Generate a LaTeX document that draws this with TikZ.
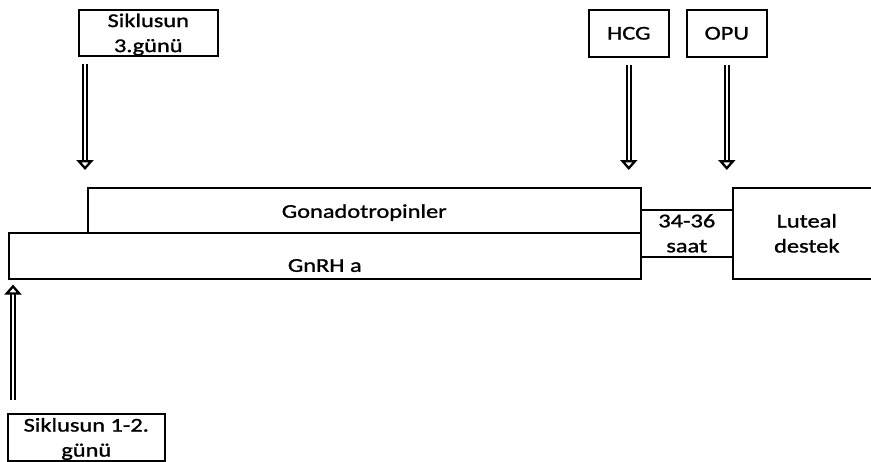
\documentclass[tikz,border=0pt]{standalone}
\usepackage{fontspec}
\setmainfont{Carlito}[FakeStretch=1.25,FakeBold=1.2]
\usetikzlibrary{arrows.meta,positioning}
\tikzset{>=stealth}
\tikzset{
  box/.style={draw,line width=1.6pt,inner sep=0pt,align=center,
    font=\fontsize{19.5}{25}\selectfont},
  dblarrow/.style={double,double distance=2.6pt,line width=1.4pt,
    -{Triangle[open,length=10pt,width=17pt,line width=2.3pt]}}
}

\begin{document}
\begin{tikzpicture}[x=1pt,y=-1pt]
\useasboundingbox (0,0) rectangle (871,461);

% time bars
\node[box,anchor=north west,minimum width=553pt,minimum height=45pt,
  text height=15pt,text depth=0pt] (gonad) at (87,187) {Gonadotropinler};
\node[box,anchor=north west,minimum width=632pt,minimum height=46pt,
  text height=32pt,text depth=0pt] (gnrh) at (8,232) {GnRH a};
\node[box,anchor=north west,minimum width=92pt,minimum height=47pt] (saat) at (640,209) {34-36\\saat};
\node[box,anchor=north west,minimum width=148pt,minimum height=91pt] (luteal) at (732,187) {Luteal\\destek};

% events
\node[box,anchor=north west,minimum width=139pt,minimum height=46pt,
  text depth=0pt] (day3) at (78,9) {Siklusun\\3.günü};
\node[box,anchor=north west,minimum width=80pt,minimum height=47pt] (hcg) at (588,9) {HCG};
\node[box,anchor=north west,minimum width=80pt,minimum height=47pt] (opu) at (686,9) {OPU};
\node[box,anchor=north west,minimum width=157pt,minimum height=47pt,
  text depth=0pt] (day12) at (7,413) {Siklusun 1-2.\\günü};

\coordinate (d3) at ([xshift=7pt]day3.south west);
\coordinate (d12) at ([xshift=6pt]day12.north west);

\draw[dblarrow,shorten <=7pt,shorten >=17pt] (d3) -- (d3 |- gonad.north);
\draw[dblarrow,shorten <=7pt,shorten >=17pt] (hcg.south) -- (hcg.south |- gonad.north);
\draw[dblarrow,shorten <=7pt,shorten >=17pt] (opu.south) -- (opu.south |- luteal.north);
\draw[dblarrow,shorten <=13pt,shorten >=5pt] (d12) -- (d12 |- gnrh.south);
\end{tikzpicture}
\end{document}
